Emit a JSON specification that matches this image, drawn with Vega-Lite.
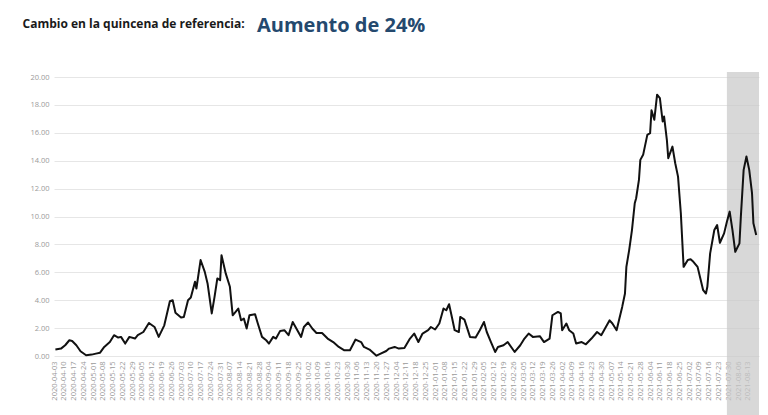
{
  "$schema": "https://vega.github.io/schema/vega-lite/v6.json",
  "autosize": {"type": "none"},
  "width": 705,
  "height": 279,
  "padding": {"left": 54, "top": 77, "right": 9, "bottom": 59},
  "background": "white",
  "title": {
    "text": "Aumento de 24%",
    "anchor": "start",
    "frame": "group",
    "dx": 203,
    "offset": 0,
    "dy": 35,
    "font": "Open Sans",
    "fontSize": 20,
    "fontWeight": "bold",
    "color": "#24496e",
    "baseline": "alphabetic"
  },
  "config": {
    "view": {"stroke": null},
    "axis": {"labelFont": "Open Sans", "labelColor": "#9a9a9a", "domain": false, "ticks": false, "labelOverlap": false, "labelFontSize": 7.5, "labelPadding": 5},
    "axisX": {"grid": false, "labelFlush": false},
    "axisY": {"grid": true, "gridColor": "#e6e6e6", "gridWidth": 1}
  },
  "layer": [
    {
      "data": {"values": [{"start": "2021-07-29", "end": "2021-08-21"}]},
      "mark": {"type": "rect", "color": "#c9c9c9", "opacity": 0.72},
      "encoding": {
        "x": {
          "field": "start",
          "type": "temporal",
          "scale": {
            "type": "utc",
            "domain": [
              {"year": 2020, "month": 4, "date": 3, "utc": true},
              {"year": 2021, "month": 8, "date": 21, "utc": true}
            ],
            "nice": false
          },
          "axis": {
            "title": null,
            "format": "%Y-%m-%d",
            "labelAngle": -90,
            "labelOverlap": false,
            "grid": false,
            "values": [
              1585872000000, 1586476800000, 1587081600000, 1587686400000, 1588291200000, 1588896000000,
              1589500800000, 1590105600000, 1590710400000, 1591315200000, 1591920000000, 1592524800000,
              1593129600000, 1593734400000, 1594339200000, 1594944000000, 1595548800000, 1596153600000,
              1596758400000, 1597363200000, 1597968000000, 1598572800000, 1599177600000, 1599782400000,
              1600387200000, 1600992000000, 1601596800000, 1602201600000, 1602806400000, 1603411200000,
              1604016000000, 1604620800000, 1605225600000, 1605830400000, 1606435200000, 1607040000000,
              1607644800000, 1608249600000, 1608854400000, 1609459200000, 1610064000000, 1610668800000,
              1611273600000, 1611878400000, 1612483200000, 1613088000000, 1613692800000, 1614297600000,
              1614902400000, 1615507200000, 1616112000000, 1616716800000, 1617321600000, 1617926400000,
              1618531200000, 1619136000000, 1619740800000, 1620345600000, 1620950400000, 1621555200000,
              1622160000000, 1622764800000, 1623369600000, 1623974400000, 1624579200000, 1625184000000,
              1625788800000, 1626393600000, 1626998400000, 1627603200000, 1628208000000, 1628812800000
            ]
          }
        },
        "x2": {"field": "end"},
        "y": {
          "datum": 20.36,
          "type": "quantitative",
          "scale": {"domain": [0, 20], "nice": false, "zero": true},
          "axis": {
            "values": [0, 2, 4, 6, 8, 10, 12, 14, 16, 18, 20],
            "format": ".2f",
            "labelOverlap": false,
            "grid": true,
            "title": "Cambio en la quincena de referencia:",
            "titleAngle": 0,
            "titleAlign": "left",
            "titleBaseline": "alphabetic",
            "titleX": -32,
            "titleY": -50,
            "titleFont": "Open Sans",
            "titleFontSize": 12,
            "titleFontWeight": "bold",
            "titleColor": "#1a1a1a"
          }
        },
        "y2": {"datum": -4.3}
      }
    },
    {
      "data": {"values": [
        {"date": "2020-04-04", "value": 0.46},
        {"date": "2020-04-08", "value": 0.53},
        {"date": "2020-04-11", "value": 0.77},
        {"date": "2020-04-14", "value": 1.13},
        {"date": "2020-04-16", "value": 1.08},
        {"date": "2020-04-19", "value": 0.77},
        {"date": "2020-04-22", "value": 0.34},
        {"date": "2020-04-26", "value": 0.05},
        {"date": "2020-04-30", "value": 0.10},
        {"date": "2020-05-03", "value": 0.17},
        {"date": "2020-05-06", "value": 0.24},
        {"date": "2020-05-09", "value": 0.65},
        {"date": "2020-05-13", "value": 1.0},
        {"date": "2020-05-16", "value": 1.49},
        {"date": "2020-05-19", "value": 1.32},
        {"date": "2020-05-21", "value": 1.37},
        {"date": "2020-05-24", "value": 0.89},
        {"date": "2020-05-27", "value": 1.37},
        {"date": "2020-05-31", "value": 1.25},
        {"date": "2020-06-02", "value": 1.49},
        {"date": "2020-06-06", "value": 1.72},
        {"date": "2020-06-10", "value": 2.37},
        {"date": "2020-06-14", "value": 2.08},
        {"date": "2020-06-17", "value": 1.37},
        {"date": "2020-06-21", "value": 2.2},
        {"date": "2020-06-25", "value": 3.93},
        {"date": "2020-06-27", "value": 4.0},
        {"date": "2020-06-29", "value": 3.1},
        {"date": "2020-07-03", "value": 2.76},
        {"date": "2020-07-05", "value": 2.8},
        {"date": "2020-07-08", "value": 4.0},
        {"date": "2020-07-10", "value": 4.19},
        {"date": "2020-07-13", "value": 5.32},
        {"date": "2020-07-14", "value": 4.84},
        {"date": "2020-07-17", "value": 6.88},
        {"date": "2020-07-20", "value": 6.03},
        {"date": "2020-07-22", "value": 5.2},
        {"date": "2020-07-25", "value": 3.05},
        {"date": "2020-07-27", "value": 4.24},
        {"date": "2020-07-29", "value": 5.56},
        {"date": "2020-07-31", "value": 5.44},
        {"date": "2020-08-01", "value": 7.23},
        {"date": "2020-08-04", "value": 5.92},
        {"date": "2020-08-07", "value": 4.96},
        {"date": "2020-08-09", "value": 2.92},
        {"date": "2020-08-13", "value": 3.4},
        {"date": "2020-08-15", "value": 2.56},
        {"date": "2020-08-17", "value": 2.69},
        {"date": "2020-08-19", "value": 1.97},
        {"date": "2020-08-21", "value": 2.92},
        {"date": "2020-08-25", "value": 3.0},
        {"date": "2020-08-27", "value": 2.33},
        {"date": "2020-08-30", "value": 1.37},
        {"date": "2020-09-02", "value": 1.13},
        {"date": "2020-09-04", "value": 0.89},
        {"date": "2020-09-07", "value": 1.37},
        {"date": "2020-09-09", "value": 1.25},
        {"date": "2020-09-12", "value": 1.8},
        {"date": "2020-09-15", "value": 1.85},
        {"date": "2020-09-18", "value": 1.49},
        {"date": "2020-09-21", "value": 2.44},
        {"date": "2020-09-23", "value": 2.08},
        {"date": "2020-09-27", "value": 1.37},
        {"date": "2020-09-29", "value": 2.08},
        {"date": "2020-10-02", "value": 2.4},
        {"date": "2020-10-05", "value": 1.97},
        {"date": "2020-10-08", "value": 1.65},
        {"date": "2020-10-12", "value": 1.65},
        {"date": "2020-10-16", "value": 1.25},
        {"date": "2020-10-20", "value": 1.0},
        {"date": "2020-10-24", "value": 0.65},
        {"date": "2020-10-28", "value": 0.41},
        {"date": "2020-11-01", "value": 0.41},
        {"date": "2020-11-05", "value": 1.18},
        {"date": "2020-11-09", "value": 1.0},
        {"date": "2020-11-11", "value": 0.65},
        {"date": "2020-11-15", "value": 0.46},
        {"date": "2020-11-20", "value": 0.02},
        {"date": "2020-11-23", "value": 0.17},
        {"date": "2020-11-27", "value": 0.36},
        {"date": "2020-11-29", "value": 0.53},
        {"date": "2020-12-03", "value": 0.65},
        {"date": "2020-12-06", "value": 0.53},
        {"date": "2020-12-10", "value": 0.57},
        {"date": "2020-12-14", "value": 1.25},
        {"date": "2020-12-17", "value": 1.61},
        {"date": "2020-12-20", "value": 1.0},
        {"date": "2020-12-23", "value": 1.61},
        {"date": "2020-12-27", "value": 1.85},
        {"date": "2020-12-29", "value": 2.08},
        {"date": "2021-01-01", "value": 1.9},
        {"date": "2021-01-04", "value": 2.33},
        {"date": "2021-01-07", "value": 3.4},
        {"date": "2021-01-09", "value": 3.28},
        {"date": "2021-01-11", "value": 3.71},
        {"date": "2021-01-13", "value": 2.8},
        {"date": "2021-01-15", "value": 1.85},
        {"date": "2021-01-18", "value": 1.72},
        {"date": "2021-01-19", "value": 2.8},
        {"date": "2021-01-22", "value": 2.61},
        {"date": "2021-01-26", "value": 1.37},
        {"date": "2021-01-30", "value": 1.32},
        {"date": "2021-02-02", "value": 1.85},
        {"date": "2021-02-05", "value": 2.44},
        {"date": "2021-02-07", "value": 1.72},
        {"date": "2021-02-10", "value": 1.0},
        {"date": "2021-02-13", "value": 0.29},
        {"date": "2021-02-15", "value": 0.65},
        {"date": "2021-02-19", "value": 0.77},
        {"date": "2021-02-22", "value": 1.0},
        {"date": "2021-02-27", "value": 0.29},
        {"date": "2021-03-03", "value": 0.77},
        {"date": "2021-03-06", "value": 1.25},
        {"date": "2021-03-09", "value": 1.61},
        {"date": "2021-03-12", "value": 1.37},
        {"date": "2021-03-17", "value": 1.42},
        {"date": "2021-03-20", "value": 1.0},
        {"date": "2021-03-24", "value": 1.25},
        {"date": "2021-03-26", "value": 2.92},
        {"date": "2021-03-30", "value": 3.16},
        {"date": "2021-04-01", "value": 3.05},
        {"date": "2021-04-02", "value": 1.85},
        {"date": "2021-04-05", "value": 2.33},
        {"date": "2021-04-07", "value": 1.85},
        {"date": "2021-04-10", "value": 1.61},
        {"date": "2021-04-12", "value": 0.89},
        {"date": "2021-04-16", "value": 1.0},
        {"date": "2021-04-19", "value": 0.84},
        {"date": "2021-04-23", "value": 1.25},
        {"date": "2021-04-27", "value": 1.72},
        {"date": "2021-04-30", "value": 1.49},
        {"date": "2021-05-02", "value": 1.85},
        {"date": "2021-05-06", "value": 2.56},
        {"date": "2021-05-08", "value": 2.33},
        {"date": "2021-05-11", "value": 1.85},
        {"date": "2021-05-13", "value": 2.69},
        {"date": "2021-05-15", "value": 3.52},
        {"date": "2021-05-17", "value": 4.48},
        {"date": "2021-05-18", "value": 6.39},
        {"date": "2021-05-20", "value": 7.59},
        {"date": "2021-05-22", "value": 9.03},
        {"date": "2021-05-24", "value": 10.95},
        {"date": "2021-05-25", "value": 11.31},
        {"date": "2021-05-27", "value": 12.62},
        {"date": "2021-05-28", "value": 14.06},
        {"date": "2021-05-30", "value": 14.42},
        {"date": "2021-06-02", "value": 15.85},
        {"date": "2021-06-04", "value": 15.97},
        {"date": "2021-06-05", "value": 17.62},
        {"date": "2021-06-07", "value": 16.93},
        {"date": "2021-06-09", "value": 18.73},
        {"date": "2021-06-11", "value": 18.49},
        {"date": "2021-06-13", "value": 16.81},
        {"date": "2021-06-14", "value": 17.17},
        {"date": "2021-06-16", "value": 15.5},
        {"date": "2021-06-17", "value": 14.18},
        {"date": "2021-06-20", "value": 15.01},
        {"date": "2021-06-22", "value": 13.82},
        {"date": "2021-06-24", "value": 12.86},
        {"date": "2021-06-26", "value": 10.25},
        {"date": "2021-06-28", "value": 6.39},
        {"date": "2021-07-01", "value": 6.88},
        {"date": "2021-07-03", "value": 6.93},
        {"date": "2021-07-05", "value": 6.75},
        {"date": "2021-07-08", "value": 6.39},
        {"date": "2021-07-10", "value": 5.56},
        {"date": "2021-07-12", "value": 4.72},
        {"date": "2021-07-14", "value": 4.48},
        {"date": "2021-07-15", "value": 4.96},
        {"date": "2021-07-17", "value": 7.36},
        {"date": "2021-07-20", "value": 9.03},
        {"date": "2021-07-22", "value": 9.39},
        {"date": "2021-07-24", "value": 8.12},
        {"date": "2021-07-27", "value": 8.79},
        {"date": "2021-07-29", "value": 9.63},
        {"date": "2021-07-31", "value": 10.35},
        {"date": "2021-08-02", "value": 9.03},
        {"date": "2021-08-04", "value": 7.47},
        {"date": "2021-08-07", "value": 8.07},
        {"date": "2021-08-08", "value": 9.99},
        {"date": "2021-08-10", "value": 13.34},
        {"date": "2021-08-12", "value": 14.3},
        {"date": "2021-08-14", "value": 13.34},
        {"date": "2021-08-16", "value": 11.67},
        {"date": "2021-08-17", "value": 9.51},
        {"date": "2021-08-19", "value": 8.67}
      ]},
      "mark": {"type": "line", "color": "#111111", "strokeWidth": 2, "strokeJoin": "round"},
      "encoding": {
        "x": {
          "field": "date",
          "type": "temporal",
          "scale": {
            "type": "utc",
            "domain": [
              {"year": 2020, "month": 4, "date": 3, "utc": true},
              {"year": 2021, "month": 8, "date": 21, "utc": true}
            ],
            "nice": false
          },
          "axis": {
            "title": null,
            "format": "%Y-%m-%d",
            "labelAngle": -90,
            "labelOverlap": false,
            "grid": false,
            "values": [
              1585872000000, 1586476800000, 1587081600000, 1587686400000, 1588291200000, 1588896000000,
              1589500800000, 1590105600000, 1590710400000, 1591315200000, 1591920000000, 1592524800000,
              1593129600000, 1593734400000, 1594339200000, 1594944000000, 1595548800000, 1596153600000,
              1596758400000, 1597363200000, 1597968000000, 1598572800000, 1599177600000, 1599782400000,
              1600387200000, 1600992000000, 1601596800000, 1602201600000, 1602806400000, 1603411200000,
              1604016000000, 1604620800000, 1605225600000, 1605830400000, 1606435200000, 1607040000000,
              1607644800000, 1608249600000, 1608854400000, 1609459200000, 1610064000000, 1610668800000,
              1611273600000, 1611878400000, 1612483200000, 1613088000000, 1613692800000, 1614297600000,
              1614902400000, 1615507200000, 1616112000000, 1616716800000, 1617321600000, 1617926400000,
              1618531200000, 1619136000000, 1619740800000, 1620345600000, 1620950400000, 1621555200000,
              1622160000000, 1622764800000, 1623369600000, 1623974400000, 1624579200000, 1625184000000,
              1625788800000, 1626393600000, 1626998400000, 1627603200000, 1628208000000, 1628812800000
            ]
          }
        },
        "y": {
          "field": "value",
          "type": "quantitative",
          "scale": {"domain": [0, 20], "nice": false, "zero": true},
          "axis": {
            "values": [0, 2, 4, 6, 8, 10, 12, 14, 16, 18, 20],
            "format": ".2f",
            "labelOverlap": false,
            "grid": true,
            "title": "Cambio en la quincena de referencia:",
            "titleAngle": 0,
            "titleAlign": "left",
            "titleBaseline": "alphabetic",
            "titleX": -32,
            "titleY": -50,
            "titleFont": "Open Sans",
            "titleFontSize": 12,
            "titleFontWeight": "bold",
            "titleColor": "#1a1a1a"
          }
        }
      }
    }
  ]
}
